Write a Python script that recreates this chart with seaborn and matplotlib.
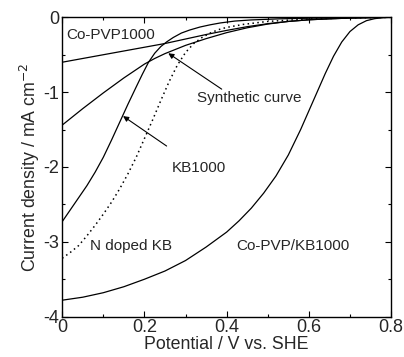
import matplotlib
matplotlib.use('Agg')
import matplotlib.pyplot as plt
from matplotlib.ticker import MultipleLocator
import pandas as pd
import seaborn as sns

# values (potential in V vs. SHE, current in mA cm-2)
copvp_kb_x = [0, 0.05, 0.1, 0.15, 0.2, 0.25, 0.3, 0.35, 0.4, 0.43, 0.46, 0.49, 0.52,
              0.55, 0.58, 0.6, 0.62, 0.64, 0.66, 0.68, 0.7, 0.72, 0.74, 0.76, 0.78, 0.8]
copvp_kb_y = [-3.78, -3.74, -3.68, -3.60, -3.50, -3.39, -3.25, -3.07, -2.87, -2.72, -2.55,
              -2.35, -2.12, -1.84, -1.50, -1.25, -1.0, -0.75, -0.52, -0.33, -0.19, -0.10,
              -0.045, -0.018, -0.005, 0]

kb_x = [0, 0.02, 0.04, 0.06, 0.08, 0.1, 0.12, 0.14, 0.16, 0.18, 0.195, 0.21, 0.225,
        0.24, 0.255, 0.27, 0.29, 0.31, 0.335, 0.36, 0.385, 0.42, 0.46, 0.53, 0.6, 0.7, 0.8]
kb_y = [-2.73, -2.57, -2.41, -2.25, -2.07, -1.87, -1.64, -1.40, -1.16, -0.93, -0.76,
        -0.60, -0.48, -0.39, -0.325, -0.27, -0.21, -0.17, -0.13, -0.10, -0.075, -0.05,
        -0.035, -0.02, -0.012, -0.005, 0]

ndoped_x = [0, 0.02, 0.04, 0.06, 0.08, 0.1, 0.12, 0.14, 0.16, 0.18, 0.2, 0.22, 0.24,
            0.26, 0.28, 0.3, 0.32, 0.34, 0.36, 0.38, 0.4, 0.44, 0.5, 0.6, 0.7, 0.8]
ndoped_y = [-3.22, -3.14, -3.05, -2.92, -2.78, -2.63, -2.47, -2.29, -2.09, -1.87, -1.62,
            -1.37, -1.11, -0.86, -0.64, -0.47, -0.35, -0.27, -0.21, -0.165, -0.135,
            -0.095, -0.055, -0.022, -0.008, 0]

synth_x = [0, 0.05, 0.1, 0.15, 0.2, 0.225, 0.25, 0.275, 0.3, 0.35, 0.4, 0.45, 0.5,
           0.55, 0.6, 0.65, 0.7, 0.75, 0.8]
synth_y = [-1.44, -1.22, -1.01, -0.81, -0.625, -0.55, -0.485, -0.43, -0.375, -0.285,
           -0.205, -0.14, -0.09, -0.055, -0.033, -0.02, -0.01, -0.004, 0]

copvp_x = [0, 0.1, 0.2, 0.25, 0.3, 0.35, 0.4, 0.45, 0.5, 0.55, 0.6, 0.65, 0.7, 0.75, 0.8]
copvp_y = [-0.6, -0.5, -0.40, -0.35, -0.29, -0.23, -0.175, -0.125, -0.085, -0.055,
           -0.033, -0.02, -0.01, -0.004, 0]

sns.set_style('ticks')
plt.rcParams['font.family'] = ['Liberation Sans', 'DejaVu Sans']
plt.rcParams['axes.unicode_minus'] = False

fig = plt.figure(figsize=(4.04, 3.57), dpi=100)
ax = fig.add_axes([0.154, 0.113, 0.814, 0.8385])

solid = [(copvp_kb_x, copvp_kb_y), (kb_x, kb_y), (synth_x, synth_y), (copvp_x, copvp_y)]
for xs, ys in solid:
    df = pd.DataFrame({'x': xs, 'y': ys})
    sns.lineplot(data=df, x='x', y='y', ax=ax, color='black', lw=0.9, estimator=None)

df = pd.DataFrame({'x': ndoped_x, 'y': ndoped_y})
sns.lineplot(data=df, x='x', y='y', ax=ax, color='black', lw=1.1, ls=(0, (1, 2.2)), estimator=None)

ax.set_xlim(0, 0.8)
ax.set_ylim(-4, 0)
ax.xaxis.set_minor_locator(MultipleLocator(0.1))
ax.yaxis.set_minor_locator(MultipleLocator(0.5))
ax.set_xticks([0, 0.2, 0.4, 0.6, 0.8])
ax.set_xticklabels(['0', '0.2', '0.4', '0.6', '0.8'])
ax.set_yticks([0, -1, -2, -3, -4])
ax.set_yticklabels(['0', '-1', '-2', '-3', '-4'])
ax.tick_params(which='both', direction='in', top=True, right=True, labelsize=13, pad=2, color='black')
ax.tick_params(which='major', length=4, width=0.8)
ax.tick_params(which='minor', length=2.5, width=0.8)
for s in ax.spines.values():
    s.set_linewidth(1.0)
    s.set_color('black')

ax.set_xlabel('Potential / V vs. SHE', fontsize=12.8, labelpad=0)
ax.set_ylabel('Current density / mA cm$^{-2}$', fontsize=12.8, labelpad=1)

tfs = 11
ax.text(0.011, -0.24, 'Co-PVP1000', fontsize=tfs, va='center', ha='left')
ax.text(0.067, -3.06, 'N doped KB', fontsize=tfs, va='center', ha='left')
ax.text(0.424, -3.06, 'Co-PVP/KB1000', fontsize=tfs, va='center', ha='left')

arrow = dict(arrowstyle='-|>', color='black', lw=0.8, mutation_scale=8, shrinkA=0, shrinkB=0)
ax.annotate('', xy=(0.258, -0.48), xytext=(0.388, -0.96), arrowprops=arrow)
ax.text(0.327, -1.08, 'Synthetic curve', fontsize=tfs, va='center', ha='left')
ax.annotate('', xy=(0.148, -1.32), xytext=(0.254, -1.72), arrowprops=arrow)
ax.text(0.266, -2.01, 'KB1000', fontsize=tfs, va='center', ha='left')

fig.savefig('out.png', dpi=100)
